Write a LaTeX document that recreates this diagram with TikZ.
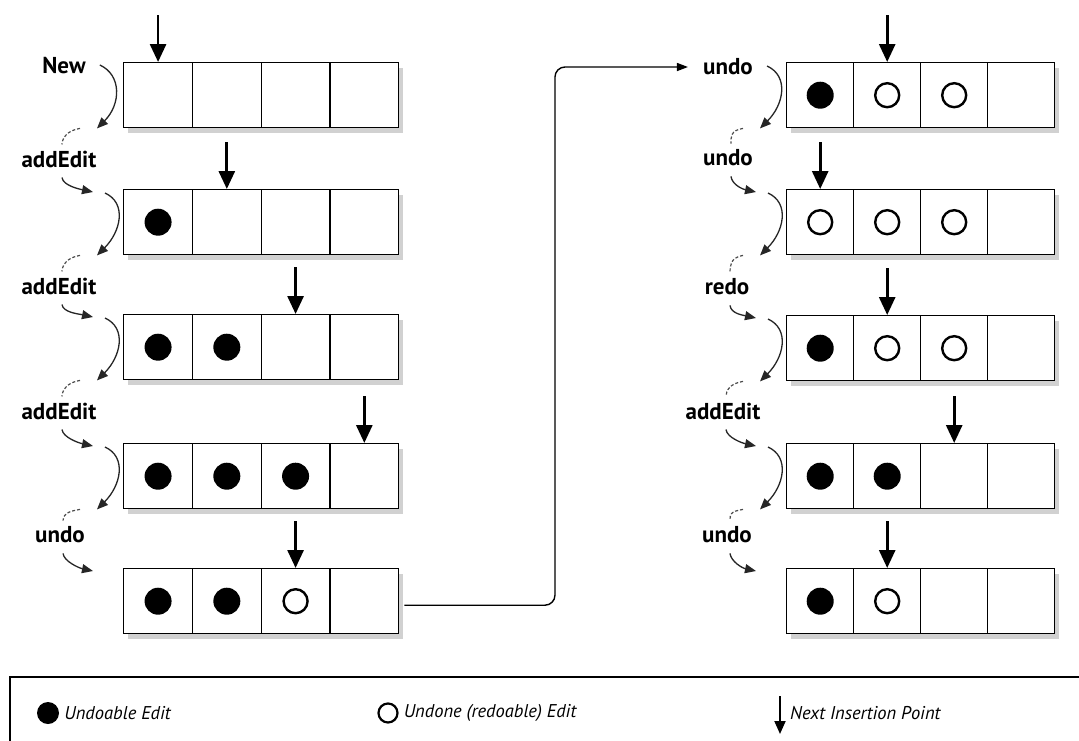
\documentclass[tikz,border=0pt]{standalone}
\usepackage{fontspec}
\setmainfont{PT Sans}
\usetikzlibrary{arrows.meta,calc,positioning}

\tikzset{
	cell/.style={draw, line width=1.4pt, fill=white, minimum height=65pt, inner sep=0pt, anchor=north west},
	rowshade/.style={fill=black!18},
	fullmark/.style={circle, fill=black, minimum size=27pt, inner sep=0pt},
	openmark/.style={circle, draw, line width=2.4pt, minimum size=24pt, inner sep=0pt},
	nomark/.style={inner sep=0pt},
	op/.style={font=\fontsize{23}{26}\selectfont\bfseries, inner sep=0pt},
	ptr/.style={line width=2.8pt, -{Triangle[length=18pt,width=16pt]}},
	flow/.style={line width=1.3pt, black!85, -{Triangle[length=11pt,width=9pt]}},
	hook/.style={line width=1.2pt, black!70, dash pattern=on 3pt off 2pt},
	link/.style={line width=1.4pt, rounded corners=10pt, -{Triangle[length=11pt,width=8pt]}},
	key/.style={font=\fontsize{18.5}{22}\selectfont\itshape, inner sep=0pt}
}

\begin{document}
\begin{tikzpicture}[x=1pt, y=-1pt]
	\useasboundingbox (0,0) rectangle (1079,740);
	\fill[white] (0,0) rectangle (1079,740);

	\foreach \nm/\x/\y/\w/\a/\b/\c/\d/\p in {
		L1/123/62/68.75/nomark/nomark/nomark/nomark/1,
		L2/123/189/68.75/fullmark/nomark/nomark/nomark/2,
		L3/123/314/68.75/fullmark/fullmark/nomark/nomark/3,
		L4/123/443/68.75/fullmark/fullmark/fullmark/nomark/4,
		L5/123/568/68.75/fullmark/fullmark/openmark/nomark/3,
		R1/786/62/67/fullmark/openmark/openmark/nomark/2,
		R2/786/189/67/openmark/openmark/openmark/nomark/1,
		R3/786/315/67/fullmark/openmark/openmark/nomark/2,
		R4/786/443/67/fullmark/fullmark/nomark/nomark/3,
		R5/786/568/67/fullmark/openmark/nomark/nomark/2} {
		\fill[rowshade] ({\x+5},{\y+6}) rectangle ({\x+4*\w+5},{\y+71});
		\foreach \s [count=\k] in {\a,\b,\c,\d} {
			\node[cell, minimum width=\w pt] (\nm-\k) at ({\x+(\k-1)*\w},\y) {};
			\node[\s] (\nm-\k-m) at (\nm-\k.center) {};
		}
		\draw[ptr] ($(\nm-\p.north)+(0,-47)$) -- (\nm-\p.north);
	}

	\node[op] (L1-op) at (64,66) {New};
	\node[op] (L2-op) at (59,159) {addEdit};
	\node[op] (L3-op) at (59,286) {addEdit};
	\node[op] (L4-op) at (59,411) {addEdit};
	\node[op] (L5-op) at (60,535) {undo};
	\node[op] (R1-op) at (728,67) {undo};
	\node[op] (R2-op) at (728,158) {undo};
	\node[op] (R3-op) at (727,287) {redo};
	\node[op] (R4-op) at (723,411) {addEdit};
	\node[op] (R5-op) at (727,535) {undo};

	\foreach \c in {L,R} {
		\draw[flow] ($(\c1-op.east)+(14,-1)$) .. controls +(22,10) and +(24,-24) .. ($(\c1-1.south west)+(-26,0)$);
		\foreach \k [evaluate=\k as \j using int(\k-1)] in {2,...,5} {
			\draw[hook] ($(\c\j-1.south west)+(-43,0)$) .. controls +(-13,2) and +(0,-6) .. ($(\c\k-op.north)+(3,-6)$);
			\draw[flow] ($(\c\k-op.south)+(3,10)$) .. controls +(1,8) and +(-14,-3) .. ($(\c\k-1.north west)+(-30,3)$);
		}
		\foreach \k in {2,...,4} {
			\draw[flow] ($(\c\k-1.north west)+(-18,4)$) .. controls +(22,10) and +(24,-24) .. ($(\c\k-1.south west)+(-26,0)$);
		}
	}

	\draw[link] ($(L5-4.east)+(5,4)$) -| ($(R1-op.west)+(-148,0)$) -- ($(R1-op.west)+(-15,0)$);

	\draw[line width=1.4pt] (10,677) -- (10,750);
	\draw[line width=2.6pt] (9,677) -- (1090,677);
	\node[fullmark, minimum size=22pt] (key-full) at (48,713) {};
	\node[key, right=5pt of key-full] (key-full-txt) {Undoable Edit};
	\node[openmark, minimum size=19pt, line width=2.2pt] (key-open) at (388,713) {};
	\node[key, right=5pt of key-open] (key-open-txt) {Undone (redoable) Edit};
	\coordinate (key-ptr) at (780,713);
	\draw[line width=1.9pt, -{Triangle[length=13pt,width=11pt]}] ($(key-ptr)+(0,-17)$) -- ($(key-ptr)+(0,21)$);
	\node[key, right=10pt of key-ptr] (key-ptr-txt) {Next Insertion Point};
\end{tikzpicture}
\end{document}
